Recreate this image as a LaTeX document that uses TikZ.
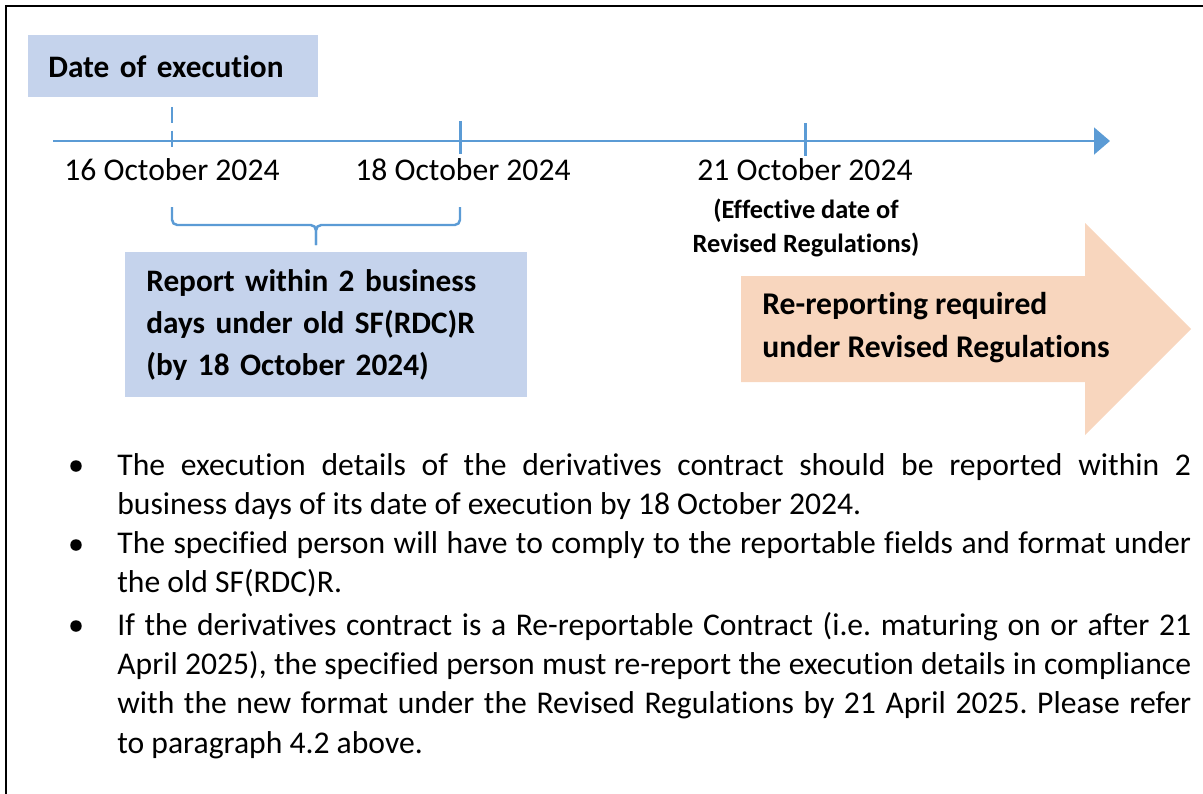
\documentclass[tikz,border=0pt]{standalone}
\usepackage{fontspec}
\setmainfont{Carlito}[Ligatures=NoCommon]
\usetikzlibrary{arrows.meta}
\definecolor{lineblue}{HTML}{5B9BD5}
\definecolor{boxblue}{HTML}{C5D3EC}
\definecolor{peach}{HTML}{F8D6BE}
\frenchspacing

\begin{document}
\begin{tikzpicture}[x=0.02cm, y=-0.02cm,
    datelbl/.style={font=\fontsize{18}{22}\selectfont},
    notelbl/.style={align=center, font=\fontsize{15}{19.3}\selectfont\bfseries},
    bluebox/.style={fill=boxblue, anchor=north west, align=left, inner ysep=0pt,
      font=\fontsize{17.8}{23.8}\selectfont\bfseries},
    tick/.style={lineblue, line width=1.7pt},
    brc/.style={lineblue, line width=1.4pt, rounded corners=3pt},
    bulletdot/.style={circle, fill=black, inner sep=0pt, minimum size=0.23cm},
    bullettext/.style={anchor=base west, inner sep=0pt, text width=21.48cm,
      align=justify, font=\fontsize{18}{22.4}\selectfont}]

  \useasboundingbox (0,0) rectangle (1203,794);

  % Frame
  \draw[line width=1.13pt] (1203,6) -- (6,6) -- (6,794);

  % Boxes
  \node[bluebox, text width=5cm, inner xsep=0.4cm, minimum height=1.24cm] (exec) at (28,35) {Date of execution};

  \node[bluebox, text width=7.2cm, inner xsep=0.42cm, minimum height=2.9cm] (report) at (125,252)
    {Report within 2 business\\days under old SF(RDC)R\\(by 18 October 2024)};

  \fill[peach] (741,276) -- (1085,276) -- (1085,223) -- (1191,329)
    -- (1085,435) -- (1085,382) -- (741,382) -- cycle;

  \node[anchor=west, inner sep=0pt, align=left, font=\fontsize{18}{24.4}\selectfont\bfseries] (rereport) at (762,328)
    {Re-reporting required\\under Revised Regulations};

  % Timeline
  \coordinate (tlstart) at (53,141);
  \coordinate (tlend) at (1110,141);
  \draw[tick, -{Triangle[length=9pt, width=15pt]}] (tlstart) -- (tlend);

  \draw[tick, dash pattern=on 9pt off 4.5pt] (172,107) -- (172,150);
  \draw[tick] (460,121) -- (460,154);
  \draw[tick] (805,123) -- (805,156);

  \node[datelbl] (d16) at (172,170) {16 October 2024};
  \node[datelbl] (d18) at (463,170) {18 October 2024};
  \node[datelbl] (d21) at (805,170) {21 October 2024};

  \node[notelbl] (effective) at (806,228) {(Effective date of\\Revised Regulations)};

  % Brace
  \draw[brc] (172,207) |- (316,225) -- (316,245);
  \draw[brc] (460,207) |- (316,225) -- (316,245);

  % Bullets
  \node[bulletdot] (b1) at (76,466) {};
  \node[bulletdot] (b2) at (76,545) {};
  \node[bulletdot] (b3) at (76,626) {};

  \node[bullettext] (p1) at (117,475)
    {The execution details of the derivatives contract should be reported within 2\linebreak
     business days of its date of execution by 18 October 2024.};

  \node[bullettext] (p2) at (117,553)
    {The specified person will have to comply to the reportable fields and format under\linebreak
     the old SF(RDC)R.};

  \node[bullettext] (p3) at (117,635)
    {If the derivatives contract is a Re-reportable Contract (i.e. maturing on or after 21\linebreak
     April 2025), the specified person must re-report the execution details in compliance\linebreak
     with the new format under the Revised Regulations by 21 April 2025. Please refer\linebreak
     to paragraph 4.2 above.};

\end{tikzpicture}
\end{document}
